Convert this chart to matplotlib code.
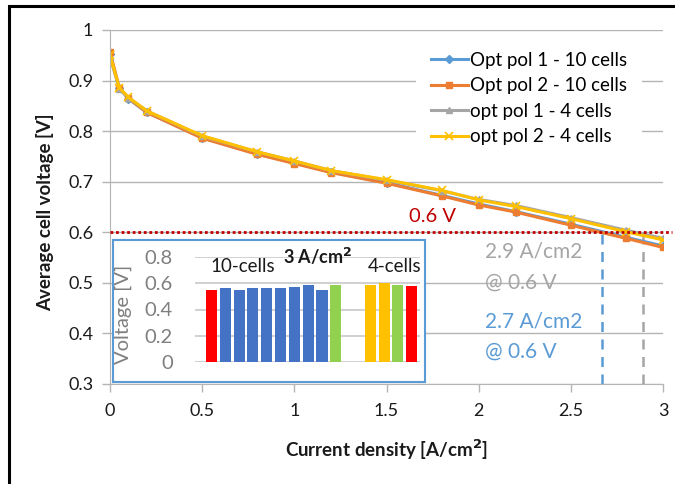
import matplotlib
matplotlib.use("Agg")
import matplotlib.pyplot as plt
from matplotlib.patches import Rectangle

plt.rcParams["font.family"] = ["Lato", "DejaVu Sans"]

# polarization curves
current = [0, 0.05, 0.1, 0.2, 0.5, 0.8, 1.0, 1.2, 1.5, 1.8, 2.0, 2.2, 2.5, 2.8, 3.0]
pol1_10 = [0.952, 0.885, 0.864, 0.837, 0.787, 0.755, 0.737, 0.719, 0.698, 0.673, 0.656, 0.641, 0.616, 0.590, 0.573]
pol2_10 = [0.957, 0.886, 0.865, 0.837, 0.786, 0.754, 0.736, 0.718, 0.697, 0.672, 0.654, 0.640, 0.614, 0.588, 0.570]
pol1_4 = [0.947, 0.884, 0.866, 0.840, 0.790, 0.759, 0.741, 0.722, 0.703, 0.682, 0.665, 0.653, 0.629, 0.604, 0.588]
pol2_4 = [0.950, 0.886, 0.867, 0.840, 0.791, 0.759, 0.741, 0.722, 0.704, 0.683, 0.664, 0.651, 0.627, 0.601, 0.585]

# inset: cell voltages at 3 A/cm2
cells10 = [0.545, 0.565, 0.552, 0.565, 0.565, 0.565, 0.575, 0.588, 0.552, 0.59]
cells10_colors = ["#FF0000"] + ["#4472C4"] * 8 + ["#92D050"]
cells4 = [0.59, 0.60, 0.59, 0.577]
cells4_colors = ["#FFC000", "#FFC000", "#92D050", "#FF0000"]
GROUP_GAP = 2.5

limit_v = 0.6
limit_i_10 = 2.67
limit_i_4 = 2.89

W, H = 675, 484


def fx(px):
    return px / W


def fy(py):
    return 1 - py / H


fig = plt.figure(figsize=(6.75, 4.84), dpi=100)

ax = fig.add_axes([fx(110), fy(384), 553 / W, 354 / H])
grid_c = "#B4B4B4"
ax.plot(current, pol1_10, "-D", color="#5B9BD5", lw=2.2, ms=4, label="Opt pol 1 - 10 cells")
ax.plot(current, pol2_10, "-s", color="#ED7D31", lw=2.2, ms=5, label="Opt pol 2 - 10 cells")
ax.plot(current, pol1_4, "-^", color="#A5A5A5", lw=2.2, ms=5, label="opt pol 1 - 4 cells")
ax.plot(current, pol2_4, "-x", color="#FFC000", lw=2.2, ms=6, mew=1.2, label="opt pol 2 - 4 cells")

ax.axhline(limit_v, xmin=0, xmax=3.05 / 3, color="#C00000", lw=2, ls=(0, (1, 1)), clip_on=False, zorder=5)
ax.plot([limit_i_10, limit_i_10], [0.3, limit_v], color="#5B9BD5", lw=1.8, ls=(0, (4, 3)), zorder=1)
ax.plot([limit_i_4, limit_i_4], [0.3, limit_v], color="#A5A5A5", lw=1.8, ls=(0, (4, 3)), zorder=1)

ax.set_xlim(0, 3)
ax.set_ylim(0.3, 1.0)
ax.set_xticks([0, 0.5, 1, 1.5, 2, 2.5, 3])
ax.set_xticklabels(["0", "0.5", "1", "1.5", "2", "2.5", "3"])
ax.set_yticks([0.3, 0.4, 0.5, 0.6, 0.7, 0.8, 0.9, 1.0])
ax.set_yticklabels(["0.3", "0.4", "0.5", "0.6", "0.7", "0.8", "0.9", "1"])
ax.grid(axis="y", color=grid_c, lw=1)
ax.set_axisbelow(True)
for s in ["top", "right"]:
    ax.spines[s].set_visible(False)
for s in ["left", "bottom"]:
    ax.spines[s].set_color(grid_c)
ax.tick_params(axis="both", colors=grid_c, labelcolor="#1a1a1a", labelsize=13, length=6, width=1)
ax.tick_params(axis="y", pad=6)
ax.tick_params(axis="x", pad=8)

leg = ax.legend(loc="upper left", bbox_to_anchor=(fx(416), fy(37)), bbox_transform=fig.transFigure,
                fontsize=13.5, frameon=True, fancybox=False, edgecolor="none", facecolor="white",
                framealpha=1, handlelength=1.95, handletextpad=0.12, labelspacing=0.45,
                borderpad=0.8, borderaxespad=0)
leg.set_zorder(6)

fig.text(fx(433), fy(217), "0.6 V", color="#C00000", fontsize=14.5, ha="center", va="center")
fig.text(fx(485), fy(252), "2.9 A/cm2", color="#A5A5A5", fontsize=15, ha="left", va="center")
fig.text(fx(485), fy(283), "@ 0.6 V", color="#A5A5A5", fontsize=15, ha="left", va="center")
fig.text(fx(485), fy(322), "2.7 A/cm2", color="#5B9BD5", fontsize=15, ha="left", va="center")
fig.text(fx(485), fy(352), "@ 0.6 V", color="#5B9BD5", fontsize=15, ha="left", va="center")

fig.text(fx(45), fy(212), "Average cell voltage [V]", rotation=90, fontsize=13.5, fontweight="bold",
         ha="center", va="center", color="#1a1a1a")
fig.text(fx(387), fy(450), "Current density [A/cm$^\\mathbf{2}$]", fontsize=13.5, fontweight="bold",
         ha="center", va="center", color="#1a1a1a")

# inset box
box = fig.add_axes([fx(113), fy(382), 312 / W, 142 / H])
box.set_xticks([])
box.set_yticks([])
box.set_facecolor("white")
for s in box.spines.values():
    s.set_color("#5B9BD5")
    s.set_linewidth(1.5)
box.set_zorder(7)

ins = fig.add_axes([fx(195), fy(362), 225 / W, 105 / H])
ins.set_zorder(8)
ins.patch.set_alpha(0)
pos10 = list(range(len(cells10)))
pos4 = [len(cells10) - 1 + GROUP_GAP + i for i in range(len(cells4))]
ins.bar(pos10, cells10, width=0.8, color=cells10_colors, zorder=3)
ins.bar(pos4, cells4, width=0.8, color=cells4_colors, zorder=3)
ins.set_xlim(-1.2, 15.1)
ins.set_ylim(0, 0.8)
ins.set_yticks([0, 0.2, 0.4, 0.6, 0.8])
ins.set_yticklabels(["0", "0.2", "0.4", "0.6", "0.8"])
ins.set_xticks([])
ins.grid(axis="y", color="#C8C8C8", lw=1.2, zorder=0)
ins.set_axisbelow(True)
for s in ins.spines.values():
    s.set_visible(False)
ins.tick_params(axis="y", length=0, labelsize=14.5, labelcolor="#7F7F7F", pad=16)
ins.set_ylabel("Voltage [V]", fontsize=14.5, color="#7F7F7F")
ins.yaxis.set_label_coords(-0.28, 0.45)

fig.text(fx(243), fy(267), "10-cells", fontsize=13.5, ha="center", va="center", color="#1a1a1a", zorder=9)
fig.text(fx(395), fy(267), "4-cells", fontsize=13.5, ha="center", va="center", color="#1a1a1a", zorder=9)
fig.text(fx(318), fy(256), "3 A/cm$^\\mathbf{2}$", fontsize=13, fontweight="bold", ha="center", va="center",
         color="#1a1a1a", zorder=9)

# outer frame (left and top edges visible)
fig.patches.append(Rectangle((fx(9), -0.1), 1.2, fy(6) + 0.1, transform=fig.transFigure,
                             fill=False, edgecolor="black", lw=2.2))

fig.savefig("out.png", dpi=100, facecolor="white")
